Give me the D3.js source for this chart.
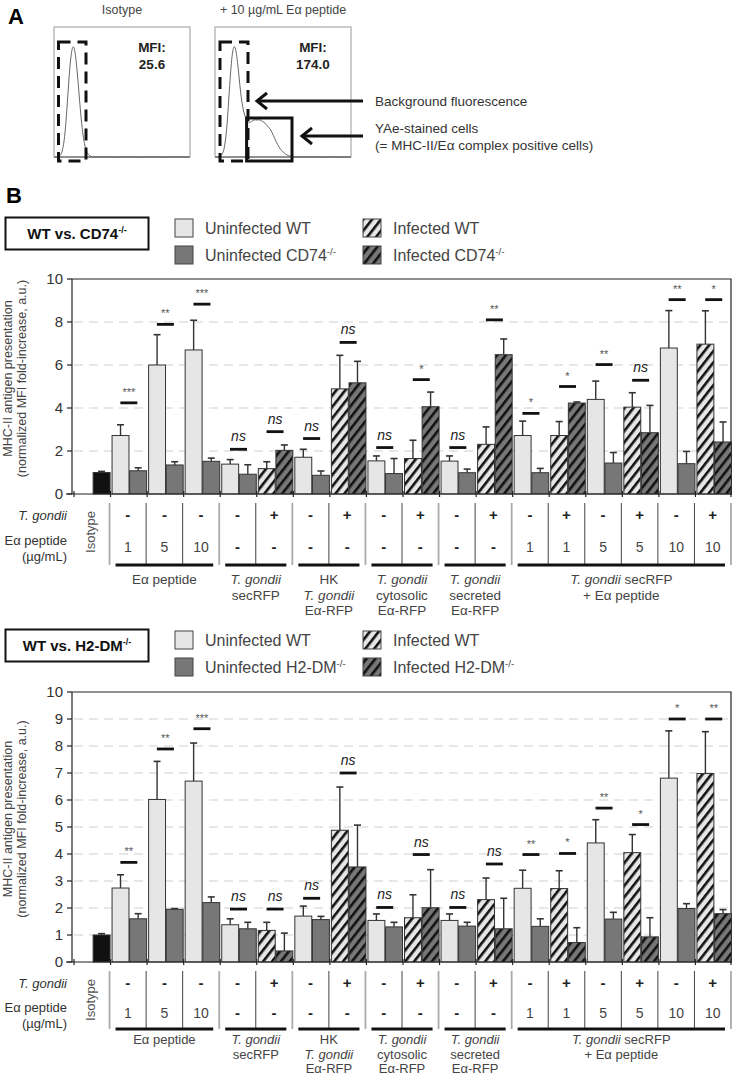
<!DOCTYPE html>
<html><head><meta charset="utf-8">
<script src="https://cdn.jsdelivr.net/npm/d3@7"></script>
<style>body{margin:0;background:#fff}svg{display:block}text{font-family:"Liberation Sans",Arial,Helvetica,sans-serif}</style>
</head><body><svg id="c" width="733" height="1080"></svg>
<script>
// ---------- DATA ----------
const groups = ["Isotype","Ea1","Ea5","Ea10","sec-","sec+","HK-","HK+","cyt-","cyt+","scr-","scr+","m1-","m1+","m5-","m5+","m10-","m10+"];
const tgondiiRow = ["", "-","-","-","-","+","-","+","-","+","-","+","-","+","-","+","-","+"];
const peptideRow = ["", "1","5","10","-","-","-","-","-","-","-","-","1","1","5","5","10","10"];
const infected   = [0,0,0,0,0,1,0,1,0,1,0,1,0,1,0,1,0,1];
const setSpans = [[1,3],[4,5],[6,7],[8,9],[10,11],[12,17]];
const setLabels = [
  [[["Eα peptide",0]]],
  [[["T. gondii",1]],[["secRFP",0]]],
  [[["HK",0]],[["T. gondii",1]],[["Eα-RFP",0]]],
  [[["T. gondii",1]],[["cytosolic",0]],[["Eα-RFP",0]]],
  [[["T. gondii",1]],[["secreted",0]],[["Eα-RFP",0]]],
  [[["T. gondii",1],[" secRFP",0]],[["+ Eα peptide",0]]]
];
// WT vs CD74-/-
const cd74_wt    = [null,2.72,6.0,6.7,1.39,1.18,1.71,4.89,1.54,1.65,1.53,2.31,2.72,2.72,4.40,4.04,6.79,6.97];
const cd74_wtErr = [null,0.50,1.41,1.38,0.21,0.32,0.37,1.56,0.23,0.85,0.24,0.81,0.67,0.65,0.85,0.67,1.74,1.55];
const cd74_ko    = [1.0,1.08,1.35,1.52,0.92,2.03,0.87,5.17,0.95,4.06,0.99,6.48,0.99,4.23,1.44,2.85,1.41,2.42];
const cd74_koErr = [0.05,0.14,0.15,0.15,0.44,0.25,0.20,1.00,0.70,0.68,0.17,0.73,0.20,0.05,0.49,1.27,0.57,0.93];
const cd74_sig   = ["","***","**","***","ns","ns","ns","ns","ns","*","ns","**","*","*","**","ns","**","*"];
const cd74_sigY  = [null,4.24,7.89,8.83,2.08,2.90,2.58,7.05,2.16,5.32,2.16,8.10,3.75,5.00,6.02,5.29,9.04,9.04];
// WT vs H2-DM-/-
const dm_wt    = [null,2.74,6.02,6.70,1.38,1.17,1.70,4.88,1.54,1.64,1.54,2.31,2.73,2.72,4.41,4.05,6.81,6.98];
const dm_wtErr = [null,0.49,1.41,1.41,0.22,0.30,0.37,1.60,0.24,0.85,0.24,0.80,0.67,0.66,0.86,0.67,1.75,1.55];
const dm_ko    = [1.0,1.60,1.95,2.20,1.23,0.41,1.57,3.52,1.30,2.01,1.33,1.23,1.32,0.72,1.59,0.93,1.98,1.79];
const dm_koErr = [0.05,0.19,0.03,0.21,0.24,0.66,0.12,1.55,0.17,1.41,0.14,1.13,0.28,0.55,0.25,0.71,0.18,0.15];
const dm_sig   = ["","**","**","***","ns","ns","ns","ns","ns","ns","ns","ns","**","*","**","*","*","**"];
const dm_sigY  = [null,3.69,7.89,8.64,1.96,1.96,2.36,7.00,2.02,3.98,2.02,3.63,3.98,4.02,5.70,5.09,9.00,9.00];
const cd74_ticks = [0,2,4,6,8,10];
const dm_ticks = [0,1,2,3,4,5,6,7,8,9,10];
// Panel A histograms (relative counts per fluorescence bin)
const isoHist = [0,0,1,6,25,60,86,90,72,44,20,7,2,0.5,0,0,0,0,0,0,0,0,0,0,0,0,0,0,0,0,0,0,0,0,0,0,0,0,0,0,0,0,0,0,0,0,0,0,0,0];
const pepHist = [0,0,1,5,22,58,86,90,74,50,36,30,27,28,30,29,30,28,27,24,22,17,12,8,5,3,1.5,0.7,0.3,0,0,0,0,0,0,0,0,0,0,0,0,0,0,0,0,0,0,0,0,0];

const svg = d3.select("#c");

// ---------- patterns ----------
const defs = svg.append("defs");
[["hatchLight","#e6e6e6"],["hatchDark","#777777"]].forEach(([id,col])=>{
  const p = defs.append("pattern").attr("id",id).attr("patternUnits","userSpaceOnUse")
    .attr("width",7).attr("height",7).attr("patternTransform","rotate(38)");
  p.append("rect").attr("width",7).attr("height",7).attr("fill",col);
  p.append("rect").attr("width",2.6).attr("height",7).attr("fill","#111");
});

// ---------- PANEL A ----------
svg.append("text").attr("x",8).attr("y",24).attr("font-size",22).attr("font-weight","bold").text("A");
const boxTop = 27, boxBot = 157;
const panels = [
  {x0:54, x1:190, hist:isoHist, title:"Isotype", mfi:"25.6", dash:[4.5,32]},
  {x0:215, x1:351, hist:pepHist, title:"+ 10 µg/mL Eα peptide", mfi:"174.0", dash:[5,33]}
];
panels.forEach((p,i)=>{
  const g = svg.append("g");
  g.append("rect").attr("x",p.x0).attr("y",boxTop).attr("width",p.x1-p.x0).attr("height",boxBot-boxTop)
    .attr("fill","none").attr("stroke","#999").attr("stroke-width",1);
  g.append("line").attr("x1",p.x0).attr("x2",p.x1).attr("y1",boxBot).attr("y2",boxBot).attr("stroke","#555");
  g.append("text").attr("x",(p.x0+p.x1)/2).attr("y",14).attr("text-anchor","middle").attr("font-size",12.5).attr("fill","#444").text(p.title);
  const hx = d3.scaleLinear().domain([0,p.hist.length-1]).range([p.x0+1,p.x1-1]);
  const hy = d3.scaleLinear().domain([0,100]).range([boxBot,boxTop+4]);
  g.append("path").attr("d",d3.line().x((d,j)=>hx(j)).y(d=>hy(d)).curve(d3.curveBasis)(p.hist))
    .attr("fill","none").attr("stroke","#666").attr("stroke-width",1);
  g.append("text").attr("x",p.x0+98).attr("y",52).attr("text-anchor","middle").attr("font-size",13.5).attr("font-weight","bold").attr("fill","#222").text("MFI:");
  g.append("text").attr("x",p.x0+98).attr("y",69).attr("text-anchor","middle").attr("font-size",13.5).attr("font-weight","bold").attr("fill","#222").text(p.mfi);
  g.append("rect").attr("x",p.x0+p.dash[0]).attr("y",42).attr("width",p.dash[1]-p.dash[0]).attr("height",boxBot+4-42)
    .attr("fill","none").attr("stroke","#111").attr("stroke-width",3).attr("stroke-dasharray","12,7");
});
// solid gate
svg.append("rect").attr("x",246.6).attr("y",118).attr("width",45.4).attr("height",boxBot+4-118)
  .attr("fill","none").attr("stroke","#111").attr("stroke-width",3);
function arrow(xTail,xHead,y){
  svg.append("line").attr("x1",xTail).attr("x2",xHead+2).attr("y1",y).attr("y2",y).attr("stroke","#111").attr("stroke-width",3);
  svg.append("path").attr("d",`M${xHead+10},${y-8} L${xHead},${y} L${xHead+10},${y+8}`).attr("fill","none").attr("stroke","#111").attr("stroke-width",3);
}
arrow(363,257,101);
arrow(363,302,136);
svg.append("text").attr("x",375).attr("y",106).attr("font-size",13.5).attr("fill","#333").text("Background fluorescence");
svg.append("text").attr("x",375).attr("y",133).attr("font-size",13.5).attr("fill","#333").text("YAe-stained cells");
svg.append("text").attr("x",375).attr("y",150).attr("font-size",13.5).attr("fill","#333").text("(= MHC-II/Eα complex positive cells)");

// ---------- PANEL B ----------
svg.append("text").attr("x",6).attr("y",203).attr("font-size",22).attr("font-weight","bold").text("B");

const x = d3.scaleBand().domain(d3.range(groups.length)).range([74,732]).paddingInner(0).paddingOuter(0);
const bw = x.bandwidth();
const xs = d3.scaleBand().domain([0,1]).range([1.5,bw-0.5]).paddingInner(0.04);

function supText(sel,main,sup,size){
  sel.append("tspan").text(main);
  sel.append("tspan").attr("font-size",size*0.6).attr("dy",-size*0.4).text(sup);
}

function drawChart(cfg){
  const g = svg.append("g");
  const y = d3.scaleLinear().domain([0,10]).range([cfg.y0,cfg.yTop]);
  // legend
  const L = cfg.legTop;
  g.append("rect").attr("x",5.5).attr("y",L-0.5).attr("width",143).attr("height",32).attr("fill","#fff").attr("stroke","#111").attr("stroke-width",2);
  supText(g.append("text").attr("x",77).attr("y",L+21).attr("text-anchor","middle").attr("font-size",15).attr("font-weight","bold").attr("fill","#111"),cfg.title,"-/-",15);
  const legItems = [
    {x:175,y:L+1,fill:"#e6e6e6",label:"Uninfected WT",sup:""},
    {x:175,y:L+28,fill:"#777",label:cfg.koLabel,sup:"-/-",pre:"Uninfected "},
    {x:363,y:L+1,fill:"url(#hatchLight)",label:"Infected WT",sup:""},
    {x:363,y:L+28,fill:"url(#hatchDark)",label:cfg.koLabel,sup:"-/-",pre:"Infected "}
  ];
  legItems.forEach(d=>{
    g.append("rect").attr("x",d.x).attr("y",d.y).attr("width",18).attr("height",18).attr("fill",d.fill).attr("stroke","#444").attr("stroke-width",1);
    const t = g.append("text").attr("x",d.x+30).attr("y",d.y+15).attr("font-size",16).attr("fill","#444");
    if(d.sup) supText(t,(d.pre||"")+d.label,d.sup,16); else t.text(d.label);
  });
  // grid
  g.selectAll(".grid").data(cfg.ticks.filter(t=>t>0&&t<10)).enter().append("line")
    .attr("x1",74).attr("x2",731).attr("y1",d=>y(d)).attr("y2",d=>y(d))
    .attr("stroke","#cfcfcf").attr("stroke-width",1.2).attr("stroke-dasharray","9,6");
  // frame
  g.append("path").attr("d",`M72,${cfg.yTop} H731 V${cfg.y0}`).attr("fill","none").attr("stroke","#222").attr("stroke-width",1.2);
  // bars
  groups.forEach((gr,i)=>{
    const gx = x(i);
    const bars = [];
    if(cfg.wt[i]!=null) bars.push({slot:0,v:cfg.wt[i],e:cfg.wtErr[i],fill:infected[i]?"url(#hatchLight)":"#e6e6e6"});
    bars.push({slot:1,v:cfg.ko[i],e:cfg.koErr[i],fill:i===0?"#111":(infected[i]?"url(#hatchDark)":"#777")});
    bars.forEach(b=>{
      const bx = gx+xs(b.slot), w = xs.bandwidth();
      g.append("line").attr("x1",bx+w/2).attr("x2",bx+w/2).attr("y1",y(b.v)).attr("y2",y(b.v+b.e)).attr("stroke","#333").attr("stroke-width",1.4);
      g.append("line").attr("x1",bx+w/2-3.5).attr("x2",bx+w/2+3.5).attr("y1",y(b.v+b.e)).attr("y2",y(b.v+b.e)).attr("stroke","#333").attr("stroke-width",1.6);
      g.append("rect").attr("x",bx).attr("y",y(b.v)).attr("width",w).attr("height",y(0)-y(b.v))
        .attr("fill",b.fill).attr("stroke","#333").attr("stroke-width",1);
    });
    if(cfg.sig[i]){
      const cx = gx+bw/2, sy = y(cfg.sigY[i]);
      g.append("line").attr("x1",cx-8.5).attr("x2",cx+8.5).attr("y1",sy).attr("y2",sy).attr("stroke","#111").attr("stroke-width",2.8);
      if(cfg.sig[i]==="ns") g.append("text").attr("x",cx).attr("y",sy-8).attr("text-anchor","middle").attr("font-size",14).attr("font-style","italic").attr("fill","#222").text("ns");
      else g.append("text").attr("x",cx).attr("y",sy-7).attr("text-anchor","middle").attr("font-size",11).attr("fill","#555").text(cfg.sig[i]);
    }
  });
  // axes
  g.append("line").attr("x1",72).attr("x2",72).attr("y1",cfg.yTop).attr("y2",cfg.y0).attr("stroke","#222").attr("stroke-width",1.2);
  g.append("line").attr("x1",66).attr("x2",732).attr("y1",cfg.y0).attr("y2",cfg.y0).attr("stroke","#222").attr("stroke-width",1.2);
  cfg.ticks.forEach(t=>{
    g.append("line").attr("x1",67).attr("x2",72).attr("y1",y(t)).attr("y2",y(t)).attr("stroke","#222").attr("stroke-width",1.2);
    g.append("text").attr("x",63).attr("y",y(t)+5).attr("text-anchor","end").attr("font-size",15).attr("fill","#333").text(t);
  });
  d3.range(groups.length+1).forEach(i=>{
    const xx = i<groups.length? x(i) : 731;
    g.append("line").attr("x1",xx).attr("x2",xx).attr("y1",cfg.y0-3).attr("y2",cfg.y0+3).attr("stroke","#222").attr("stroke-width",1.2);
  });
  // y label
  const yc = (cfg.y0+cfg.yTop)/2 - 8;
  g.append("text").attr("transform",`translate(12,${yc}) rotate(-90)`).attr("text-anchor","middle").attr("font-size",12.5).attr("fill","#444").text("MHC-II antigen presentation");
  g.append("text").attr("transform",`translate(26,${yc}) rotate(-90)`).attr("text-anchor","middle").attr("font-size",12.5).attr("fill","#444").text("(normalized MFI fold-increase, a.u.)");
  // table
  const T = cfg.y0;
  g.append("text").attr("x",67).attr("y",T+26).attr("text-anchor","end").attr("font-size",13).attr("font-style","italic").attr("fill","#333").text("T. gondii");
  g.append("text").attr("x",67).attr("y",T+cfg.tb.pep).attr("text-anchor","end").attr("font-size",13).attr("fill","#333").text("Eα peptide");
  g.append("text").attr("x",67).attr("y",T+cfg.tb.pep+16).attr("text-anchor","end").attr("font-size",13).attr("fill","#333").text("(µg/mL)");
  g.append("text").attr("transform",`translate(95,${T+38}) rotate(-90)`).attr("text-anchor","middle").attr("font-size",13).attr("fill","#555").text("Isotype");
  const setStarts = setSpans.map(s=>s[0]);
  for(let i=1;i<=groups.length;i++){
    const xx = (i<groups.length? x(i) : 732) - 1;
    const major = setStarts.includes(i) || i===groups.length;
    g.append("line").attr("x1",xx).attr("x2",xx).attr("y1",T+9).attr("y2",T+cfg.tb.bar)
      .attr("stroke",major?"#aaa":"#444").attr("stroke-width",major?1.8:1);
  }
  groups.forEach((gr,i)=>{
    if(i===0) return;
    const cx = x(i)+bw/2-1;
    g.append("text").attr("x",cx).attr("y",T+cfg.tb.tg).attr("text-anchor","middle").attr("font-size",15).attr("font-weight","bold").attr("fill","#222").text(tgondiiRow[i]);
    const pv = peptideRow[i];
    g.append("text").attr("x",cx).attr("y",T+cfg.tb.val).attr("text-anchor","middle").attr("font-size",pv==="-"?15:14)
      .attr("font-weight",pv==="-"?"bold":"normal").attr("fill",pv==="-"?"#222":"#444").text(pv);
  });
  setSpans.forEach((s,k)=>{
    const x0 = x(s[0]) + 5, x1 = (s[1]+1<groups.length? x(s[1]+1) : 732) - 7;
    g.append("line").attr("x1",x0).attr("x2",x1).attr("y1",T+cfg.tb.bar).attr("y2",T+cfg.tb.bar).attr("stroke","#111").attr("stroke-width",3.2);
    setLabels[k].forEach((line,li)=>{
      const t = g.append("text").attr("x",(x0+x1)/2).attr("y",T+cfg.tb.lab+li*cfg.tb.lh).attr("text-anchor","middle").attr("font-size",cfg.tb.fs).attr("fill","#444");
      line.forEach(([txt,it])=>t.append("tspan").attr("font-style",it?"italic":"normal").text(txt));
    });
  });
}

drawChart({title:"WT vs. CD74", koLabel:"CD74", legTop:218, yTop:279, y0:494, ticks:cd74_ticks,
  wt:cd74_wt, wtErr:cd74_wtErr, ko:cd74_ko, koErr:cd74_koErr, sig:cd74_sig, sigY:cd74_sigY,
  tb:{tg:26, pep:51, val:58, bar:71, lab:90, lh:15.5, fs:13.5}});
drawChart({title:"WT vs. H2-DM", koLabel:"H2-DM", legTop:630, yTop:692, y0:962, ticks:dm_ticks,
  wt:dm_wt, wtErr:dm_wtErr, ko:dm_ko, koErr:dm_koErr, sig:dm_sig, sigY:dm_sigY,
  tb:{tg:26, pep:50, val:56, bar:67, lab:82, lh:14.5, fs:13}});
</script></body></html>
